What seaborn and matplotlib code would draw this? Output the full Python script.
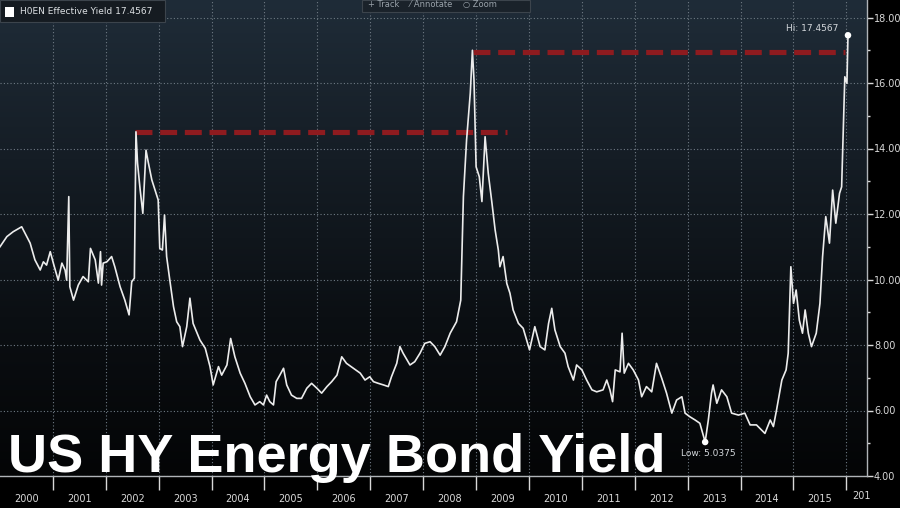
"""
US HY Energy Bond Yield - recreation of a Bloomberg style terminal chart
"""

import numpy as np
import pandas as pd
import matplotlib
matplotlib.use("Agg")
import matplotlib.pyplot as plt
from matplotlib.colors import LinearSegmentedColormap
from matplotlib.patches import Rectangle
import seaborn as sns

# === DATA ===
years = [
    2000.00, 2000.13, 2000.25, 2000.41, 2000.47, 2000.57, 2000.66, 2000.76, 2000.82, 2000.88,
    2000.95, 2001.01, 2001.10, 2001.17, 2001.23, 2001.26, 2001.30, 2001.32, 2001.39, 2001.48,
    2001.57, 2001.67, 2001.71, 2001.80, 2001.86, 2001.90, 2001.92, 2001.95, 2002.02, 2002.11,
    2002.17, 2002.27, 2002.36, 2002.44, 2002.49, 2002.54, 2002.57, 2002.60, 2002.65, 2002.70,
    2002.76, 2002.80, 2002.87, 2002.93, 2002.99, 2003.02, 2003.07, 2003.11, 2003.15, 2003.21,
    2003.28, 2003.34, 2003.40, 2003.45, 2003.53, 2003.59, 2003.65, 2003.78, 2003.88, 2003.97,
    2004.03, 2004.13, 2004.19, 2004.29, 2004.36, 2004.44, 2004.54, 2004.63, 2004.73, 2004.82,
    2004.91, 2004.98, 2005.04, 2005.10, 2005.17, 2005.22, 2005.29, 2005.36, 2005.42, 2005.51,
    2005.61, 2005.70, 2005.80, 2005.89, 2005.99, 2006.08, 2006.18, 2006.27, 2006.37, 2006.46,
    2006.55, 2006.68, 2006.81, 2006.90, 2006.99, 2007.06, 2007.15, 2007.25, 2007.34, 2007.40,
    2007.50, 2007.56, 2007.62, 2007.75, 2007.84, 2007.94, 2008.03, 2008.13, 2008.22, 2008.32,
    2008.41, 2008.51, 2008.63, 2008.71, 2008.76, 2008.82, 2008.89, 2008.93, 2008.96, 2009.00,
    2009.06, 2009.11, 2009.17, 2009.23, 2009.30, 2009.36, 2009.42, 2009.45, 2009.51, 2009.58,
    2009.64, 2009.70, 2009.80, 2009.89, 2010.01, 2010.11, 2010.21, 2010.30, 2010.37, 2010.43,
    2010.49, 2010.59, 2010.68, 2010.74, 2010.84, 2010.90, 2011.00, 2011.09, 2011.19, 2011.28,
    2011.40, 2011.47, 2011.53, 2011.58, 2011.63, 2011.72, 2011.76, 2011.80, 2011.88, 2011.97,
    2012.07, 2012.13, 2012.22, 2012.32, 2012.41, 2012.51, 2012.60, 2012.70, 2012.79, 2012.89,
    2012.95, 2013.04, 2013.14, 2013.23, 2013.33, 2013.39, 2013.45, 2013.48, 2013.55, 2013.64,
    2013.74, 2013.83, 2013.96, 2014.08, 2014.18, 2014.30, 2014.46, 2014.56, 2014.62, 2014.68,
    2014.78, 2014.86, 2014.90, 2014.95, 2015.00, 2015.05, 2015.11, 2015.17, 2015.22, 2015.28,
    2015.34, 2015.43, 2015.50, 2015.55, 2015.61, 2015.68, 2015.74, 2015.80, 2015.87, 2015.91,
    2015.94, 2015.97, 2016.01, 2016.03,
]
yields = [
    11.00, 11.31, 11.46, 11.61, 11.42, 11.11, 10.60, 10.29, 10.54, 10.44,
    10.85, 10.49, 9.98, 10.50, 10.29, 9.98, 12.53, 9.78, 9.37, 9.83,
    10.09, 9.93, 10.95, 10.60, 9.89, 10.85, 9.83, 10.50, 10.54, 10.70,
    10.39, 9.78, 9.37, 8.92, 9.93, 10.04, 14.51, 13.55, 12.73, 12.02,
    13.95, 13.60, 13.04, 12.73, 12.43, 10.95, 10.90, 11.97, 10.70, 9.98,
    9.17, 8.71, 8.56, 7.95, 8.56, 9.43, 8.66, 8.15, 7.90, 7.34,
    6.78, 7.34, 7.08, 7.39, 8.20, 7.64, 7.14, 6.83, 6.42, 6.17,
    6.27, 6.17, 6.47, 6.27, 6.17, 6.88, 7.08, 7.29, 6.78, 6.47,
    6.37, 6.37, 6.68, 6.83, 6.68, 6.53, 6.73, 6.88, 7.08, 7.64,
    7.44, 7.29, 7.14, 6.93, 7.03, 6.88, 6.83, 6.78, 6.73, 7.03,
    7.44, 7.95, 7.75, 7.39, 7.49, 7.75, 8.05, 8.10, 7.95, 7.69,
    7.95, 8.36, 8.71, 9.37, 12.53, 14.26, 15.69, 17.00, 16.09, 13.44,
    13.14, 12.38, 14.36, 13.24, 12.33, 11.51, 10.90, 10.39, 10.70, 9.88,
    9.58, 9.07, 8.66, 8.51, 7.85, 8.56, 7.95, 7.85, 8.66, 9.12,
    8.46, 7.95, 7.75, 7.34, 6.93, 7.39, 7.24, 6.93, 6.63, 6.57,
    6.63, 6.93, 6.63, 6.27, 7.24, 7.18, 8.36, 7.14, 7.44, 7.24,
    6.93, 6.42, 6.73, 6.57, 7.44, 6.98, 6.53, 5.92, 6.32, 6.42,
    5.92, 5.81, 5.71, 5.61, 5.0375, 5.71, 6.53, 6.78, 6.22, 6.63,
    6.42, 5.92, 5.86, 5.92, 5.56, 5.56, 5.30, 5.71, 5.51, 6.02,
    6.93, 7.24, 7.75, 10.39, 9.27, 9.68, 8.76, 8.36, 9.07, 8.36,
    7.95, 8.36, 9.27, 10.70, 11.92, 11.11, 12.73, 11.72, 12.63, 12.83,
    14.56, 16.19, 15.99, 17.4567,
]

# red dashed "previous high" markers: start year, end year, level
hilite_start = [2002.55, 2008.94]
hilite_end = [2009.58, 2015.97]
hilite_level = [14.50, 16.95]

year_labels = [str(y) for y in range(2000, 2016)]
y_ticks = [4, 6, 8, 10, 12, 14, 16, 18]

df = pd.DataFrame({"year": years, "yield": yields})

# === FIGURE ===
W, H = 900, 508
fig = plt.figure(figsize=(W / 100, H / 100), dpi=100, facecolor="black")
ax = fig.add_axes([0, 32 / H, 867 / W, 476 / H])

x0, x1 = 2000.0, 2000.0 + 867 / 52.9
y0, y1 = 4.0, 4.0 + 476 / 32.75
ax.set_xlim(x0, x1)
ax.set_ylim(y0, y1)

# background gradient (dark slate at top to black at bottom)
cmap = LinearSegmentedColormap.from_list(
    "bbg", ["#1f2c38", "#151d25", "#0b0f13", "#040506"])
grad = np.linspace(0, 1, 256).reshape(-1, 1)
ax.imshow(grad, extent=[x0, x1, y0, y1], origin="upper", aspect="auto",
          cmap=cmap, zorder=0, interpolation="bicubic")

# grid (dotted)
for yv in y_ticks:
    ax.axhline(yv, color="#6f7a84", lw=0.8, ls=(0, (1, 2)), zorder=1)
for yr in range(2001, 2017):
    ax.axvline(yr, color="#6f7a84", lw=0.8, ls=(0, (1, 2)), zorder=1)

# red dashed lines
for xs, xe, lv in zip(hilite_start, hilite_end, hilite_level):
    ax.plot([xs, xe], [lv, lv], color="#8e1b1f", lw=3.7,
            ls=(0, (3.3, 1.5)), solid_capstyle="butt",
            dash_capstyle="butt", zorder=2)

# the series
sns.lineplot(data=df, x="year", y="yield", ax=ax, color="#ececec",
             lw=1.2, sort=False, zorder=3)

# hi / low markers
hi_i = int(np.argmax(yields))
lo_i = int(np.argmin(yields))
ax.scatter([years[hi_i], years[lo_i]], [yields[hi_i], yields[lo_i]],
           s=22, color="white", zorder=4, edgecolor="none")
ax.annotate(f"Hi: {yields[hi_i]:.4f}", (years[hi_i], yields[hi_i]),
            xytext=(-7, 5), textcoords="offset points", ha="right",
            va="center", color="#d4d8dc", fontsize=6.5, zorder=5)
ax.annotate(f"Low: {yields[lo_i]:.4f}", (years[lo_i], yields[lo_i]),
            xytext=(2, -8), textcoords="offset points", ha="center",
            va="center", color="#d4d8dc", fontsize=6.5, zorder=5)

# axes styling
for s in ["top", "left"]:
    ax.spines[s].set_visible(False)
for s in ["right", "bottom"]:
    ax.spines[s].set_color("#b0b4b8")
    ax.spines[s].set_linewidth(1.0)

ax.yaxis.tick_right()
ax.set_yticks(y_ticks)
ax.set_yticklabels([f"{v:.2f}" for v in y_ticks])
ax.set_yticks(np.arange(5, 19, 2), minor=True)
ax.tick_params(axis="y", which="major", colors="#d8d8d8", length=4,
               width=1, labelsize=7, pad=1)
ax.tick_params(axis="y", which="minor", colors="#d8d8d8", length=2, width=1)

ax.set_xticks(list(range(2001, 2017)))
ax.set_xticklabels([])
ax.set_xticks([y + 0.5 for y in range(2000, 2016)], minor=True)
ax.set_xticklabels(year_labels, minor=True)
ax.tick_params(axis="x", which="major", colors="#d8d8d8", length=10, width=1)
ax.tick_params(axis="x", which="minor", length=0, labelsize=7,
               labelcolor="#d8d8d8", pad=13)
ax.set_xlabel("")
ax.set_ylabel("")
ax.text(2016.12, -0.043, "201", transform=ax.get_xaxis_transform(),
        color="#d8d8d8", fontsize=7, va="center", ha="left", clip_on=False)

# legend box top-left
fig.patches.append(Rectangle((0, 1 - 22 / H), 165 / W, 22 / H,
                             transform=fig.transFigure, facecolor="#151b21",
                             edgecolor="#3c444c", lw=0.8, zorder=10))
fig.patches.append(Rectangle((5 / W, 1 - 17 / H), 9 / W, 10 / H,
                             transform=fig.transFigure, facecolor="white",
                             edgecolor="none", zorder=11))
fig.text(20 / W, 1 - 12 / H, "H0EN Effective Yield 17.4567", color="#dde1e4",
         fontsize=6.5, va="center", ha="left", zorder=12)

# toolbar
fig.patches.append(Rectangle((362 / W, 1 - 12 / H), 168 / W, 12 / H,
                             transform=fig.transFigure, facecolor="#1a222a",
                             edgecolor="#3c444c", lw=0.8, zorder=10))
fig.text(368 / W, 1 - 5 / H, "+ Track    \u2044 Annotate    \u25cb Zoom",
         color="#9aa3ab", fontsize=6, va="center", ha="left", zorder=12)

# big title
fig.text(8 / W, (H - 472) / H, "US HY Energy Bond Yield", color="white",
         fontsize=39, fontweight="bold", family="Liberation Sans",
         va="baseline", ha="left", zorder=12)

fig.savefig("out.png", dpi=100, facecolor="black")
